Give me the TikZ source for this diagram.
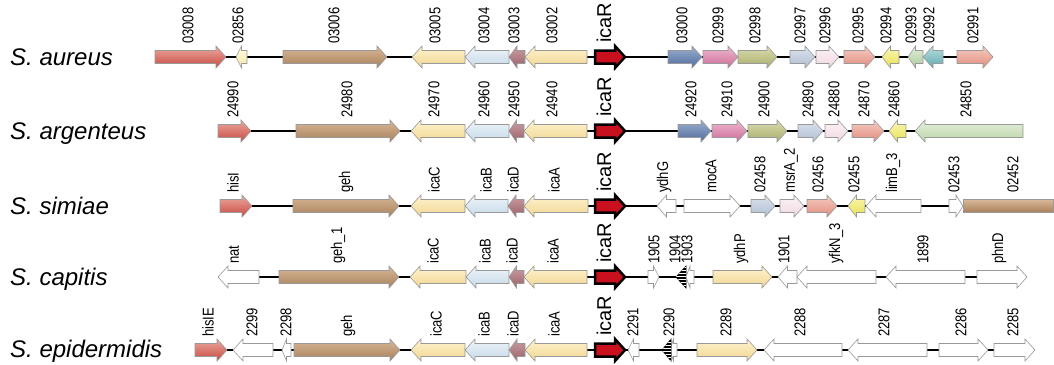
\documentclass[tikz,border=0pt]{standalone}
\usepackage{graphicx}
\usepackage{fontspec}
\setmainfont{Liberation Sans}
\usetikzlibrary{patterns}
\newcommand\geneR[4]{%
 \pgfmathsetmacro\hl{min(10,0.5*(#2-#1))}%
 \path[gene,#4] (#1,#3-6.5) -- ({#2-\hl},#3-6.5) -- ({#2-\hl},#3-11) -- (#2,#3) -- ({#2-\hl},#3+11) -- ({#2-\hl},#3+6.5) -- (#1,#3+6.5) -- cycle;}
\newcommand\geneL[4]{%
 \pgfmathsetmacro\hl{min(10,0.5*(#2-#1))}%
 \path[gene,#4] (#2,#3-6.5) -- ({#1+\hl},#3-6.5) -- ({#1+\hl},#3-11) -- (#1,#3) -- ({#1+\hl},#3+11) -- ({#1+\hl},#3+6.5) -- (#2,#3+6.5) -- cycle;}
\newcommand\hatchL[3]{%
 \path[gene,draw=black,fill=black] (#2,#3-11) -- (#1,#3) -- (#2,#3+11) -- cycle;
 \path[pattern=horizontal lines,pattern color=white] (#2,#3-11) -- (#1,#3) -- (#2,#3+11) -- cycle;}
\newcommand\lb[3]{\node[lab] (lab#1x#2) at (#1,#2-13) {\scalebox{1}[1.2]{#3}};}
\newcommand\icaRgene[1]{%
 \path[icar] (595,#1-6.5) -- (615,#1-6.5) -- (615,#1-11) -- (625,#1) -- (615,#1+11) -- (615,#1+6.5) -- (595,#1+6.5) -- cycle;
 \node[icarlab] (icaRlab#1) at (604,#1-14) {icaR};}
\tikzset{
 gene/.style={draw=black!40, line width=0.6pt},
 bb/.style={line width=2.5pt, black},
 lab/.style={rotate=90, anchor=west, inner sep=0pt, font=\fontsize{13}{13}\selectfont},
 icarlab/.style={rotate=90, anchor=west, inner sep=0pt, font=\fontsize{20}{20}\selectfont},
 icar/.style={fill={rgb,255:red,200;green,16;blue,30}, draw=black, line width=2.5pt, line join=miter},
 species/.style={anchor=base west, inner sep=0pt, font=\fontsize{24}{24}\selectfont\itshape},
 sRed/.style={top color={rgb,255:red,235;green,168;blue,160}, bottom color={rgb,255:red,201;green,74;blue,64}},
 sBrown/.style={top color={rgb,255:red,216;green,184;blue,152}, bottom color={rgb,255:red,169;green,128;blue,90}},
 sYel/.style={top color={rgb,255:red,255;green,244;blue,207}, bottom color={rgb,255:red,240;green,213;blue,144}},
 sLBlue/.style={top color={rgb,255:red,238;green,244;blue,249}, bottom color={rgb,255:red,197;green,217;blue,232}},
 sMauve/.style={top color={rgb,255:red,201;green,160;blue,165}, bottom color={rgb,255:red,156;green,96;blue,104}},
 sBlue/.style={top color={rgb,255:red,156;green,176;blue,208}, bottom color={rgb,255:red,79;green,106;blue,156}},
 sPink/.style={top color={rgb,255:red,240;green,184;blue,208}, bottom color={rgb,255:red,204;green,107;blue,152}},
 sOlive/.style={top color={rgb,255:red,220;green,221;blue,176}, bottom color={rgb,255:red,168;green,172;blue,106}},
 sGrayBlue/.style={top color={rgb,255:red,220;green,227;blue,238}, bottom color={rgb,255:red,176;green,189;blue,211}},
 sLPink/.style={top color={rgb,255:red,253;green,243;blue,246}, bottom color={rgb,255:red,240;green,216;blue,224}},
 sSalmon/.style={top color={rgb,255:red,246;green,204;blue,194}, bottom color={rgb,255:red,224;green,140;blue,124}},
 sBYel/.style={top color={rgb,255:red,250;green,247;blue,184}, bottom color={rgb,255:red,232;green,223;blue,80}},
 sLGreen/.style={top color={rgb,255:red,224;green,238;blue,216}, bottom color={rgb,255:red,174;green,203;blue,158}},
 sTeal/.style={top color={rgb,255:red,184;green,222;blue,222}, bottom color={rgb,255:red,95;green,170;blue,176}},
 sPaleY/.style={top color={rgb,255:red,255;green,251;blue,224}, bottom color={rgb,255:red,245;green,232;blue,168}},
 sLGreenB/.style={top color={rgb,255:red,229;green,240;blue,220}, bottom color={rgb,255:red,187;green,212;blue,168}},
 sWhite/.style={fill=white},
}
\begin{document}
\begin{tikzpicture}[x=1pt,y=-1pt]
\useasboundingbox (0,0) rectangle (1054,364);
% species
\node[species] (sp1) at (10,65) {S. aureus};
\node[species] (sp2) at (10,139) {S. argenteus};
\node[species] (sp3) at (10,214) {S. simiae};
\node[species] (sp4) at (10,285) {S. capitis};
\node[species] (sp5) at (10,357) {S. epidermidis};
% backbones
\draw[bb] (155,57) -- (993,57);
\draw[bb] (218,131) -- (1023,131);
\draw[bb] (220,206) -- (963,206);
\draw[bb] (218,277) -- (1027,277);
\draw[bb] (195,350) -- (1035,350);
% ---- row 1: S. aureus
\geneR{155}{226}{57}{sRed}
\geneL{236}{247}{57}{sPaleY}
\geneR{283}{387}{57}{sBrown}
\geneL{412}{465}{57}{sYel}
\geneL{465}{509}{57}{sLBlue}
\geneL{509}{525}{57}{sMauve}
\geneL{525}{587}{57}{sYel}
\icaRgene{57}
\geneR{668}{702}{57}{sBlue}
\geneR{703}{738}{57}{sPink}
\geneR{738}{777}{57}{sOlive}
\geneR{790}{815}{57}{sGrayBlue}
\geneR{816}{839}{57}{sLPink}
\geneR{844}{875}{57}{sSalmon}
\geneL{882}{899}{57}{sBYel}
\geneL{908}{923}{57}{sLGreen}
\geneL{923}{943}{57}{sTeal}
\geneR{957}{993}{57}{sSalmon}
\lb{188}{57}{03008}\lb{238}{57}{02856}\lb{334}{57}{03006}\lb{435}{57}{03005}
\lb{484}{57}{03004}\lb{514}{57}{03003}\lb{552}{57}{03002}\lb{682}{57}{03000}
\lb{718}{57}{02999}\lb{755}{57}{02998}\lb{800}{57}{02997}\lb{825}{57}{02996}
\lb{858}{57}{02995}\lb{886}{57}{02994}\lb{911}{57}{02993}\lb{929}{57}{02992}
\lb{973}{57}{02991}
% ---- row 2: S. argenteus
\geneR{218}{251}{131}{sRed}
\geneR{296}{400}{131}{sBrown}
\geneL{411}{465}{131}{sYel}
\geneL{465}{509}{131}{sLBlue}
\geneL{509}{524}{131}{sMauve}
\geneL{524}{587}{131}{sYel}
\icaRgene{131}
\geneR{678}{711}{131}{sBlue}
\geneR{712}{747}{131}{sPink}
\geneR{748}{787}{131}{sOlive}
\geneR{798}{823}{131}{sGrayBlue}
\geneR{825}{848}{131}{sLPink}
\geneR{852}{884}{131}{sSalmon}
\geneL{889}{906}{131}{sBYel}
\geneL{915}{1023}{131}{sLGreenB}
\lb{233}{131}{24990}\lb{347}{131}{24980}\lb{434}{131}{24970}\lb{484}{131}{24960}
\lb{514}{131}{24950}\lb{552}{131}{24940}\lb{691}{131}{24920}\lb{727}{131}{24910}
\lb{764}{131}{24900}\lb{808}{131}{24890}\lb{834}{131}{24880}\lb{864}{131}{24870}
\lb{894}{131}{24860}\lb{966}{131}{24850}
% ---- row 3: S. simiae
\geneR{220}{252}{206}{sRed}
\geneR{293}{399}{206}{sBrown}
\geneL{411}{465}{206}{sYel}
\geneL{465}{508}{206}{sLBlue}
\geneL{508}{524}{206}{sMauve}
\geneL{524}{588}{206}{sYel}
\icaRgene{206}
\geneL{657}{676}{206}{sWhite}
\geneR{684}{740}{206}{sWhite}
\geneR{751}{775}{206}{sGrayBlue}
\geneR{780}{804}{206}{sLPink}
\geneR{807}{837}{206}{sSalmon}
\geneL{848}{865}{206}{sBYel}
\geneL{866}{921}{206}{sWhite}
\geneR{949}{963}{206}{sWhite}
\path[gene,sBrown] (963,206-6.5) rectangle (1053,206+6.5);
\lb{233}{206}{hisI}\lb{346}{206}{geh}\lb{434}{206}{icaC}\lb{486}{206}{icaB}
\lb{513}{206}{icaD}\lb{554}{206}{icaA}\lb{664}{206}{ydhG}\lb{711}{206}{mocA}
\lb{760}{206}{02458}\lb{791}{206}{msrA\_2}\lb{818}{206}{02456}\lb{854}{206}{02455}
\lb{893}{206}{limB\_3}\lb{954}{206}{02453}\lb{1013}{206}{02452}
% ---- row 4: S. capitis
\geneL{218}{259}{277}{sWhite}
\geneR{279}{399}{277}{sBrown}
\geneL{410}{466}{277}{sYel}
\geneL{466}{509}{277}{sLBlue}
\geneL{509}{524}{277}{sMauve}
\geneL{524}{587}{277}{sYel}
\icaRgene{277}
\geneR{648}{659}{277}{sWhite}
\hatchL{676}{686}{277}
\geneL{686}{694}{277}{sWhite}
\geneR{713}{772}{277}{sYel}
\geneL{778}{797}{277}{sWhite}
\geneL{797}{876}{277}{sWhite}
\geneL{886}{965}{277}{sWhite}
\geneR{977}{1027}{277}{sWhite}
\lb{234}{277}{nat}\lb{338}{277}{geh\_1}\lb{433}{277}{icaC}\lb{485}{277}{icaB}
\lb{512}{277}{icaD}\lb{553}{277}{icaA}\lb{654}{277}{1905}\lb{675}{277}{1904}
\lb{687}{277}{1903}\lb{741}{277}{ydhP}\lb{784}{277}{1901}\lb{836}{277}{yfkN\_3}
\lb{923}{277}{1899}\lb{999}{277}{phnD}
% ---- row 5: S. epidermidis
\geneR{195}{227}{350}{sRed}
\geneL{233}{273}{350}{sWhite}
\geneL{282}{291}{350}{sWhite}
\geneR{294}{400}{350}{sBrown}
\geneL{411}{465}{350}{sYel}
\geneL{465}{509}{350}{sLBlue}
\geneL{509}{525}{350}{sMauve}
\geneL{525}{587}{350}{sYel}
\icaRgene{350}
\geneL{628}{639}{350}{sWhite}
\geneL{670}{677}{350}{sWhite}
\hatchL{662}{671}{350}
\geneR{697}{757}{350}{sYel}
\geneL{764}{842}{350}{sWhite}
\geneL{848}{927}{350}{sWhite}
\geneR{939}{988}{350}{sWhite}
\geneR{994}{1035}{350}{sWhite}
\lb{208}{350}{hisIE}\lb{252}{350}{2299}\lb{286}{350}{2298}\lb{348}{350}{geh}
\lb{436}{350}{icaC}\lb{484}{350}{icaB}\lb{513}{350}{icaD}\lb{554}{350}{icaA}
\lb{633}{350}{2291}\lb{669}{350}{2290}\lb{726}{350}{2289}\lb{800}{350}{2288}
\lb{884}{350}{2287}\lb{961}{350}{2286}\lb{1013}{350}{2285}
\end{tikzpicture}
\end{document}
